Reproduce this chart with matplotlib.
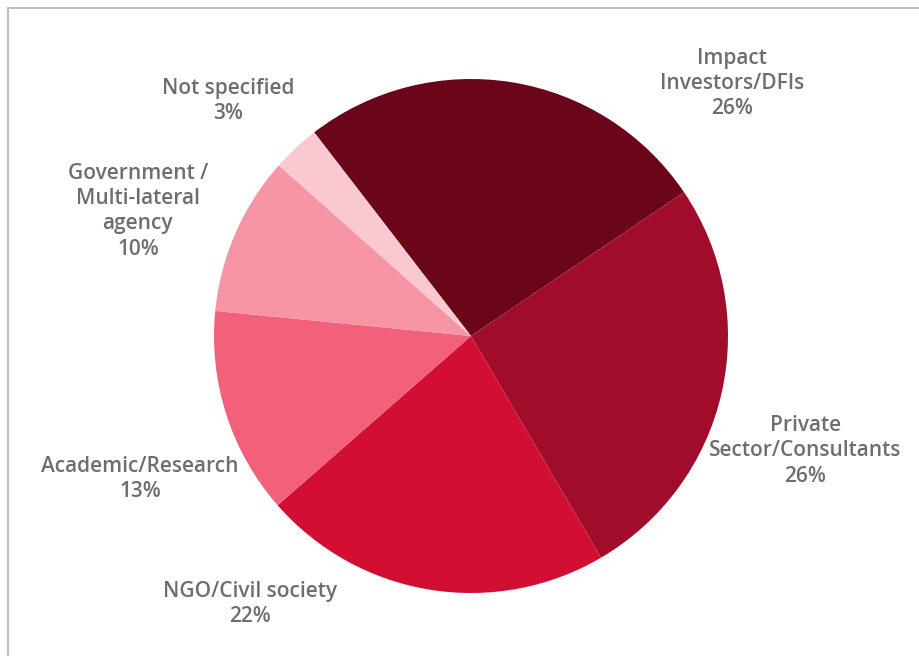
import matplotlib
matplotlib.use("Agg")
import matplotlib.pyplot as plt
from matplotlib.patches import Rectangle

# share of respondents by organisation type
categories = ['Impact\nInvestors/DFIs', 'Private\nSector/Consultants', 'NGO/Civil society',
              'Academic/Research', 'Government /\nMulti-lateral\nagency', 'Not specified']
shares = [26, 26, 22, 13, 10, 3]
colors = ['#6B0519', '#A00C2A', '#D20F32', '#F2607A', '#F795A5', '#FAC8D0']

# label centres, in pie-radius units
label_pos = [(1.016, 0.982), (1.30, -0.447), (-0.86, -1.043),
             (-1.288, -0.556), (-1.296, 0.486), (-0.946, 0.914)]

plt.rcParams['font.family'] = ['Open Sans', 'DejaVu Sans']

fig = plt.figure(figsize=(9.2, 6.56), dpi=100)
fig.patches.append(Rectangle((8/920, -0.1), 1.2, 1 - 8/656 + 0.1, transform=fig.transFigure,
                             fill=False, edgecolor='#BEBEBE', linewidth=1.5))

ax = fig.add_axes([214/920, 63/656, 514/920, 514/656])
ax.pie(shares, colors=colors, startangle=127.6, counterclock=False,
       wedgeprops=dict(linewidth=0))
ax.set_xlim(-1, 1)
ax.set_ylim(-1, 1)
ax.set_aspect('equal')
ax.axis('off')

for name, val, (x, y) in zip(categories, shares, label_pos):
    ax.text(x, y, f'{name}\n{val}%', ha='center', va='center', fontsize=15,
            fontweight='semibold', color='#6E6E6E', linespacing=1.27, clip_on=False)

fig.savefig('out.png', dpi=100)
